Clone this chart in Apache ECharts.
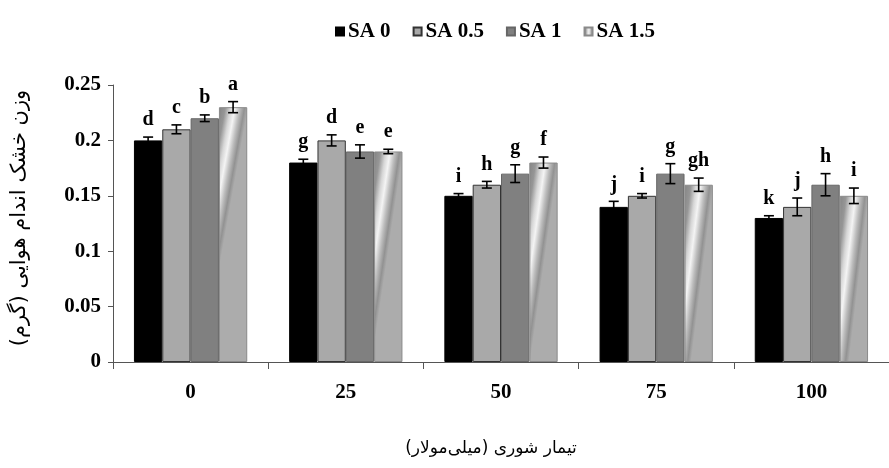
<!DOCTYPE html>
<html>
<head>
<meta charset="utf-8">
<script src="https://cdn.jsdelivr.net/npm/echarts@6/dist/echarts.min.js"></script>
<style>html,body{margin:0;padding:0;background:#fff;}#c{width:889px;height:468px;}</style>
</head>
<body>
<div id="c"></div>
<script>
var categories = ['0', '25', '50', '75', '100'];
var seriesNames = ['SA 0', 'SA 0.5', 'SA 1', 'SA 1.5'];
var sa0 = [0.20, 0.18, 0.15, 0.14, 0.13];
var sa05 = [0.21, 0.20, 0.16, 0.15, 0.14];
var sa1 = [0.22, 0.19, 0.17, 0.17, 0.16];
var sa15 = [0.23, 0.19, 0.18, 0.16, 0.15];
var err0 = [0.003, 0.003, 0.002, 0.005, 0.002];
var err05 = [0.004, 0.005, 0.003, 0.002, 0.008];
var err1 = [0.003, 0.006, 0.008, 0.009, 0.010];
var err15 = [0.005, 0.002, 0.005, 0.006, 0.007];
var let0 = ['d', 'g', 'i', 'j', 'k'];
var let05 = ['c', 'd', 'h', 'i', 'j'];
var let1 = ['b', 'e', 'g', 'g', 'h'];
var let15 = ['a', 'e', 'f', 'gh', 'i'];
var yTitle = 'وزن خشک اندام هوایی (گرم)';
var xTitle = 'تیمار شوری (میلی‌مولار)';

var values = [sa0, sa05, sa1, sa15];
var errs = [err0, err05, err1, err15];
var letters = [let0, let05, let1, let15];
var serif = '"Liberation Serif", "Times New Roman", serif';
var arabic = '"DejaVu Sans", "Noto Sans", sans-serif';
var catGap = 0.27;

var hatch = new echarts.graphic.LinearGradient(0, 0, 1, 0.02, [
  {offset: 0, color: '#858585'},
  {offset: 0.22, color: '#969696'},
  {offset: 0.4, color: '#d6d6d6'},
  {offset: 0.55, color: '#f4f4f4'},
  {offset: 0.72, color: '#bdbdbd'},
  {offset: 0.88, color: '#929292'},
  {offset: 1, color: '#acacac'}
]);
var fills = ['#000000', '#a9a9a9', '#808080', hatch];
var borders = ['#000000', '#333333', '#666666', '#8a8a8a'];

var series = [];
seriesNames.forEach(function (name, i) {
  series.push({
    name: name,
    type: 'bar',
    data: values[i],
    barGap: 0,
    barCategoryGap: (catGap * 100) + '%',
    itemStyle: {color: fills[i], borderColor: borders[i], borderWidth: 1},
    emphasis: {disabled: true}
  });
});
seriesNames.forEach(function (name, i) {
  var data = values[i].map(function (v, k) { return [k, v, errs[i][k]]; });
  series.push({
    type: 'custom',
    name: name + ' err',
    data: data,
    z: 10,
    renderItem: function (params, api) {
      var k = api.value(0), v = api.value(1), e = api.value(2);
      var band = api.size([1, 0])[0];
      var bw = band * (1 - catGap) / 4;
      var center = api.coord([k, v]);
      var x = center[0] + (i - 1.5) * bw;
      var top = api.coord([k, v + e])[1];
      var bot = api.coord([k, v - e])[1];
      var cap = 5;
      var st = {stroke: '#000', lineWidth: 1.6};
      return {
        type: 'group',
        children: [
          {type: 'line', shape: {x1: x, y1: top, x2: x, y2: bot}, style: st},
          {type: 'line', shape: {x1: x - cap, y1: top, x2: x + cap, y2: top}, style: st},
          {type: 'line', shape: {x1: x - cap, y1: bot, x2: x + cap, y2: bot}, style: st},
          {type: 'text', x: x, y: top - 7, style: {
            text: letters[i][k], fill: '#000', font: 'bold 20px ' + serif,
            textAlign: 'center', textVerticalAlign: 'bottom'
          }}
        ]
      };
    }
  });
});

var chart = echarts.init(document.getElementById('c'));
chart.setOption({
  animation: false,
  backgroundColor: '#fff',
  legend: {
    data: seriesNames,
    top: 16,
    left: 330,
    itemWidth: 8,
    itemHeight: 8,
    itemGap: 22,
    icon: 'rect',
    textStyle: {fontFamily: serif, fontWeight: 'bold', fontSize: 21, color: '#000', padding: [0, 0, 0, -1]}
  },
  grid: {left: 113, right: -9, top: 85, bottom: 106, containLabel: false},
  xAxis: {
    type: 'category',
    data: categories,
    axisLine: {lineStyle: {color: '#555', width: 1}},
    axisTick: {show: true, length: 7, lineStyle: {color: '#555'}},
    axisLabel: {fontFamily: serif, fontWeight: 'bold', fontSize: 21, color: '#000', margin: 20}
  },
  yAxis: {
    type: 'value',
    min: 0,
    max: 0.25,
    interval: 0.05,
    axisLine: {show: true, lineStyle: {color: '#555', width: 1}},
    axisTick: {show: true, length: 5, lineStyle: {color: '#555'}},
    splitLine: {show: false},
    axisLabel: {fontFamily: serif, fontWeight: 'bold', fontSize: 21, color: '#000', margin: 12,
      formatter: function (v) { return String(parseFloat(v.toFixed(2))); }}
  },
  graphic: [
    {type: 'text', x: 20, y: 218, rotation: Math.PI / 2, style: {
      text: yTitle, font: '21px ' + arabic, fill: '#000', textAlign: 'center', textVerticalAlign: 'middle'}},
    {type: 'text', x: 491, y: 449, style: {
      text: xTitle, font: '17px ' + arabic, fill: '#000', textAlign: 'center', textVerticalAlign: 'middle'}}
  ],
  series: series
});
</script>
</body>
</html>
